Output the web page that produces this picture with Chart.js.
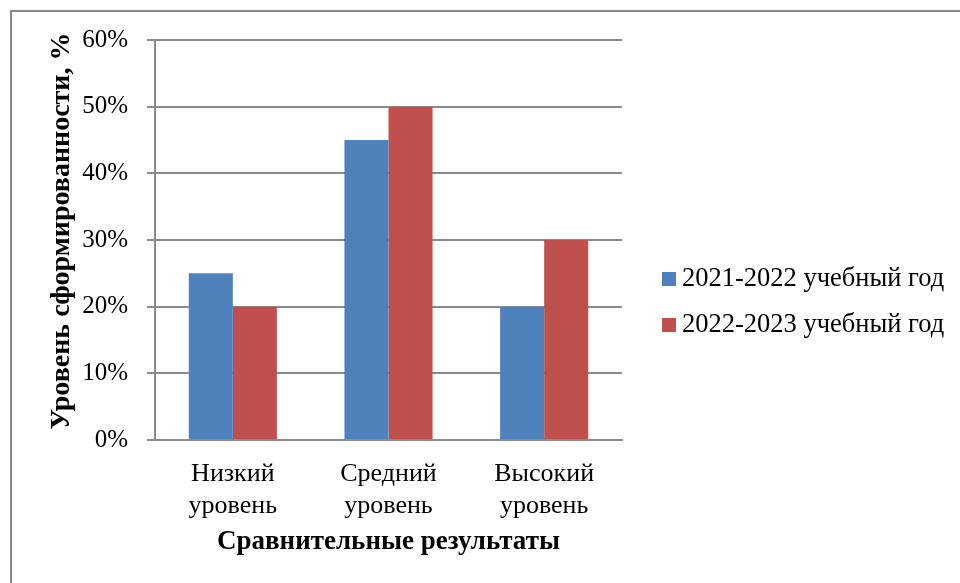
<!DOCTYPE html>
<html lang="ru">
<head>
<meta charset="utf-8">
<script src="https://cdn.jsdelivr.net/npm/chart.js@4"></script>
<style>
  html, body { margin: 0; padding: 0; background: #fff; }
  #wrap { position: relative; width: 960px; height: 583px; overflow: hidden; }
  #frame {
    position: absolute; left: 10px; top: 10px; width: 1000px; height: 600px;
    border-top: 2px solid #8a8a8a; border-left: 2px solid #8a8a8a;
    box-sizing: border-box; pointer-events: none;
  }
  canvas { position: absolute; left: 0; top: 0; }
</style>
</head>
<body>
<div id="wrap">
  <canvas id="chart" width="960" height="583"></canvas>
  <div id="frame"></div>
</div>
<script>
// Уровни сформированности по годам (в процентах)
const categories = [["Низкий", "уровень"], ["Средний", "уровень"], ["Высокий", "уровень"]];
const seriesNames = ["2021-2022 учебный год", "2022-2023 учебный год"];
const values2021 = [25, 45, 20];
const values2022 = [20, 50, 30];
const yTicks = [0, 10, 20, 30, 40, 50, 60];
const yTitle = "Уровень сформированности, %";
const xTitle = "Сравнительные результаты";

const colors = ["#4F81BD", "#C0504D"];
const FONT = "'Liberation Serif', 'Times New Roman', serif";
const GRID = "#8c8c8c";

// Legend drawn to the right of the plot area
const sideLegend = {
  id: "sideLegend",
  afterDraw(chart) {
    const ctx = chart.ctx;
    const area = chart.chartArea;
    const x0 = area.right + 40;
    const rowGap = 46;
    const n = chart.data.datasets.length;
    const cy = 302 - (n - 1) * rowGap / 2;
    ctx.save();
    ctx.font = "26.5px " + FONT;
    ctx.textBaseline = "middle";
    ctx.textAlign = "left";
    chart.data.datasets.forEach((ds, i) => {
      const y = cy + i * rowGap;
      ctx.fillStyle = ds.backgroundColor;
      ctx.fillRect(x0, y - 7, 14, 14);
      ctx.fillStyle = "#000";
      ctx.fillText(ds.label, x0 + 20, y);
    });
    ctx.restore();
  }
};

// Vertical axis title, set slightly above the plot's midline
const yAxisTitle = {
  id: "yAxisTitle",
  afterDraw(chart) {
    const ctx = chart.ctx;
    const area = chart.chartArea;
    ctx.save();
    ctx.translate(62, (area.top + area.bottom) / 2 - 9);
    ctx.rotate(-Math.PI / 2);
    ctx.font = "bold 28px " + FONT;
    ctx.fillStyle = "#000";
    ctx.textAlign = "center";
    ctx.textBaseline = "middle";
    ctx.fillText(yTitle, 0, 0);
    ctx.restore();
  }
};

new Chart(document.getElementById("chart"), {
  type: "bar",
  data: {
    labels: categories,
    datasets: [
      { label: seriesNames[0], data: values2021, backgroundColor: colors[0] },
      { label: seriesNames[1], data: values2022, backgroundColor: colors[1] }
    ]
  },
  options: {
    responsive: false,
    animation: false,
    devicePixelRatio: 1,
    layout: { padding: { left: 47, top: 40, right: 338, bottom: 25 } },
    datasets: { bar: { categoryPercentage: 0.566, barPercentage: 1.0, borderWidth: 0 } },
    plugins: { legend: { display: false }, tooltip: { enabled: false } },
    scales: {
      x: {
        grid: { display: false, drawTicks: false },
        border: { display: true, color: GRID, width: 2 },
        ticks: {
          color: "#000",
          padding: 19,
          font: { family: FONT, size: 26, lineHeight: 1.2 },
          maxRotation: 0
        },
        title: {
          display: true, text: xTitle, color: "#000",
          font: { family: FONT, size: 27, weight: "bold", lineHeight: 1.2 },
          padding: 0
        },
        afterFit(scale) { scale.height = 118; }
      },
      y: {
        min: 0, max: 60,
        afterBuildTicks(scale) { scale.ticks = yTicks.map(v => ({ value: v })); },
        grid: { color: GRID, lineWidth: 2, tickLength: 8, tickColor: GRID },
        border: { display: true, color: GRID, width: 2 },
        ticks: {
          color: "#000",
          padding: 19,
          font: { family: FONT, size: 25 },
          callback: v => v + "%"
        },
        title: { display: false },
        afterFit(scale) { scale.width = 108; }
      }
    }
  },
  plugins: [sideLegend, yAxisTitle]
});
</script>
</body>
</html>
